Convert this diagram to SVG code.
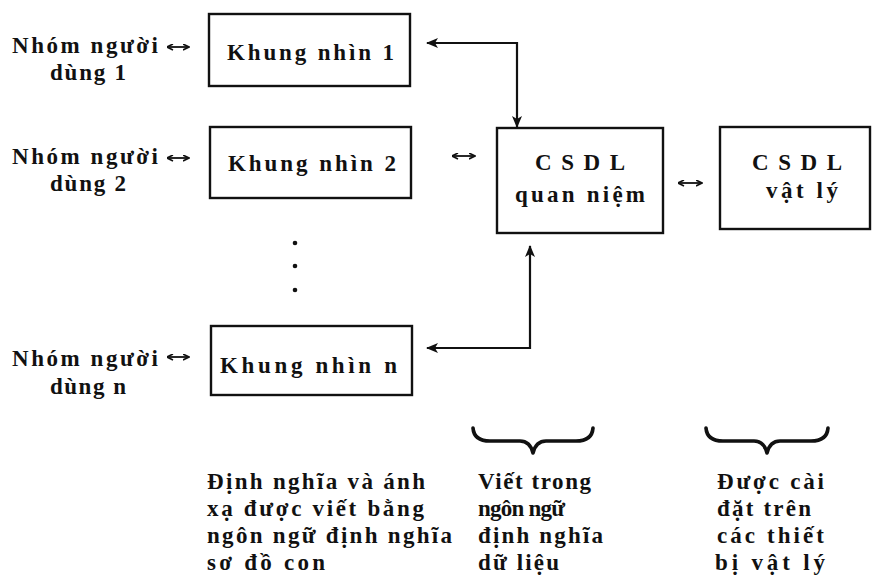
<svg xmlns="http://www.w3.org/2000/svg" width="881" height="579" viewBox="0 0 881 579">
<style>
.t{font-family:"Liberation Serif","Times New Roman",serif;font-size:23px;font-weight:bold;fill:#111}
.box{fill:none;stroke:#111;stroke-width:2.4}
.ln{fill:none;stroke:#111;stroke-width:2.2}
.sm{fill:none;stroke:#111;stroke-width:1.8}
.br{fill:none;stroke:#111;stroke-width:3.6;stroke-linecap:round;stroke-linejoin:round}
</style>
<defs>
<marker id="ah" viewBox="0 0 12 10" refX="11" refY="5" markerWidth="12" markerHeight="10" markerUnits="userSpaceOnUse" orient="auto-start-reverse"><path d="M0,0 L12,5 L0,10 L3,5 z" fill="#111"/></marker>
<marker id="sh" viewBox="0 0 7 7" refX="6.5" refY="3.5" markerWidth="7" markerHeight="7" markerUnits="userSpaceOnUse" orient="auto-start-reverse"><path d="M0.5,0.5 L6.5,3.5 L0.5,6.5" fill="none" stroke="#111" stroke-width="1.6"/></marker>
</defs>
<rect width="881" height="579" fill="#fff"/>

<g id="user1">
<text class="t" x="12" y="53" textLength="146" lengthAdjust="spacing">Nhóm người</text>
<text class="t" x="50" y="80" textLength="76" lengthAdjust="spacing">dùng 1</text>
</g>
<g id="user2">
<text class="t" x="12" y="164" textLength="146" lengthAdjust="spacing">Nhóm người</text>
<text class="t" x="50" y="191" textLength="76" lengthAdjust="spacing">dùng 2</text>
</g>
<g id="usern">
<text class="t" x="12" y="366" textLength="146" lengthAdjust="spacing">Nhóm người</text>
<text class="t" x="50" y="394" textLength="76" lengthAdjust="spacing">dùng n</text>
</g>

<g id="view1">
<rect class="box" x="209" y="14" width="201" height="72"/>
<text class="t" x="227" y="60" textLength="167" lengthAdjust="spacing">Khung nhìn 1</text>
</g>
<g id="view2">
<rect class="box" x="210" y="127" width="201" height="71"/>
<text class="t" x="228" y="171" textLength="168" lengthAdjust="spacing">Khung nhìn 2</text>
</g>
<g id="dots">
<circle cx="295" cy="243" r="2.3" fill="#111"/>
<circle cx="295" cy="266" r="2.3" fill="#111"/>
<circle cx="295" cy="290" r="2.3" fill="#111"/>
</g>
<g id="viewn">
<rect class="box" x="211" y="326" width="201" height="69"/>
<text class="t" x="220" y="373" textLength="177" lengthAdjust="spacing">Khung nhìn n</text>
</g>

<g id="csdl_qn">
<rect class="box" x="497" y="128" width="166" height="105"/>
<text class="t" x="535" y="170" textLength="90" lengthAdjust="spacing">C S D L</text>
<text class="t" x="515" y="202" textLength="130" lengthAdjust="spacing">quan niệm</text>
</g>
<g id="csdl_vl">
<rect class="box" x="720" y="127" width="150" height="102"/>
<text class="t" x="752" y="170" textLength="90" lengthAdjust="spacing">C S D L</text>
<text class="t" x="766" y="198" textLength="72" lengthAdjust="spacing">vật lý</text>
</g>

<g id="connectors">
<path class="sm" d="M167,47 H189" marker-start="url(#sh)" marker-end="url(#sh)"/>
<path class="sm" d="M167,158 H189" marker-start="url(#sh)" marker-end="url(#sh)"/>
<path class="sm" d="M167,357 H189" marker-start="url(#sh)" marker-end="url(#sh)"/>
<path class="sm" d="M452,156 H475" marker-start="url(#sh)" marker-end="url(#sh)"/>
<path class="sm" d="M678,183 H702" marker-start="url(#sh)" marker-end="url(#sh)"/>
<path class="ln" d="M427,43 H517 V127" marker-start="url(#ah)" marker-end="url(#ah)"/>
<path class="ln" d="M427,348 H530 V246" marker-start="url(#ah)" marker-end="url(#ah)"/>
</g>

<g id="braces">
<path class="br" d="M473,428 Q474,441 490,441 L520,441 Q530,441 533,453 Q536,441 546,441 L576,441 Q592,441 593,428"/>
<path class="br" d="M706,428 Q707,441 723,441 L754,441 Q764,441 767,453 Q770,441 780,441 L811,441 Q827,441 828,428"/>
</g>

<g id="notes">
<text class="t" x="207" y="489" textLength="218" lengthAdjust="spacing">Định nghĩa và ánh</text>
<text class="t" x="207" y="516" textLength="217" lengthAdjust="spacing">xạ được viết bằng</text>
<text class="t" x="207" y="543" textLength="245" lengthAdjust="spacing">ngôn ngữ định nghĩa</text>
<text class="t" x="207" y="570" textLength="118" lengthAdjust="spacing">sơ đồ con</text>
<text class="t" x="478" y="489" textLength="113" lengthAdjust="spacing">Viết trong</text>
<text class="t" x="478" y="516" textLength="87" lengthAdjust="spacing">ngôn ngữ</text>
<text class="t" x="478" y="543" textLength="125" lengthAdjust="spacing">định nghĩa</text>
<text class="t" x="478" y="570" textLength="81" lengthAdjust="spacing">dữ liệu</text>
<text class="t" x="717" y="489" textLength="107" lengthAdjust="spacing">Được cài</text>
<text class="t" x="717" y="516" textLength="94" lengthAdjust="spacing">đặt trên</text>
<text class="t" x="717" y="543" textLength="107" lengthAdjust="spacing">các thiết</text>
<text class="t" x="715" y="570" textLength="110" lengthAdjust="spacing">bị vật lý</text>
</g>
</svg>
